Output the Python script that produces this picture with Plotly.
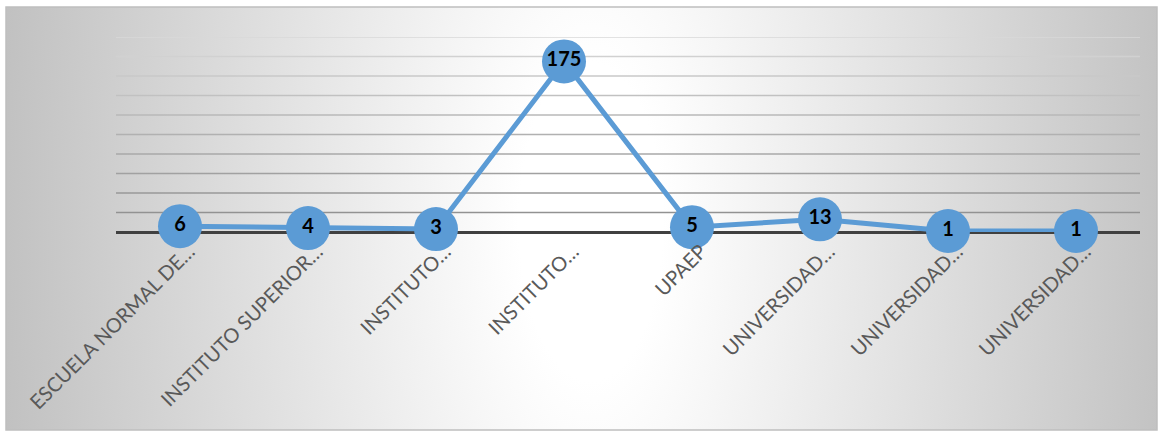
import base64
import plotly.graph_objects as go

labels = ["ESCUELA NORMAL DE…", "INSTITUTO SUPERIOR…", "INSTITUTO…", "INSTITUTO…",
          "UPAEP", "UNIVERSIDAD…", "UNIVERSIDAD…", "UNIVERSIDAD…"]
values = [6, 4, 3, 175, 5, 13, 1, 1]
positions = list(range(len(labels)))

grid_values = [20, 40, 60, 80, 100, 120, 140, 160, 180, 200]
grid_colors = ["#929292", "#999999", "#a1a1a1", "#a9a9a9", "#b1b1b1",
               "#b9b9b9", "#c1c1c1", "#c9c9c9", "#d1d1d1", "#d9d9d9"]

W, H = 1161, 431
ml, mr, mt, mb = 116, 21, 37, 199
pw, ph = W - ml - mr, H - mt - mb

# frame in paper coords
fx0, fx1 = (6 - ml) / pw, (1157 - ml) / pw
fy0, fy1 = (H - mb - 430) / ph, (H - mb - 7) / ph

svg = ("<svg xmlns='http://www.w3.org/2000/svg' width='1151' height='423' viewBox='0 0 1151 423' "
       "preserveAspectRatio='none'><defs><radialGradient id='g' gradientUnits='userSpaceOnUse' "
       "cx='585' cy='215' r='600' gradientTransform='translate(585 215) scale(1 2.2) translate(-585 -215)'>"
       "<stop offset='0' stop-color='#ffffff'/><stop offset='0.12' stop-color='#ffffff'/>"
       "<stop offset='1' stop-color='#c0c0c0'/></radialGradient></defs>"
       "<rect width='1151' height='423' fill='url(#g)'/></svg>")
src = "data:image/svg+xml;base64," + base64.b64encode(svg.encode()).decode()

fig = go.Figure()
for gv, gc in zip(grid_values, grid_colors):
    fig.add_shape(type="line", xref="paper", x0=0, x1=1, yref="y", y0=gv, y1=gv,
                  line=dict(color=gc, width=1.6), layer="below")

fig.add_trace(go.Scatter(
    x=positions, y=values, mode="lines+markers+text",
    line=dict(color="#5B9BD5", width=5),
    marker=dict(size=44, color="#5B9BD5", line=dict(width=0)),
    text=[str(v) for v in values], textposition="middle center",
    textfont=dict(family="Lato", size=20, color="#000000", weight="bold"),
    cliponaxis=False, hoverinfo="skip", showlegend=False,
))

fig.update_layout(
    width=W, height=H,
    margin=dict(l=ml, r=mr, t=mt, b=mb),
    paper_bgcolor="#ffffff", plot_bgcolor="rgba(0,0,0,0)",
    images=[dict(source=src, xref="paper", yref="paper", x=fx0, y=fy1,
                 sizex=fx1 - fx0, sizey=fy1 - fy0, xanchor="left", yanchor="top",
                 sizing="stretch", layer="below")],
    xaxis=dict(range=[-0.5, len(labels) - 0.5], tickvals=positions, ticktext=labels,
               tickangle=-45, showgrid=False, zeroline=False, showline=False, ticks="",
               ticklabelshift=9, ticklabelstandoff=3,
               tickfont=dict(family="Lato", size=20, color="#595959")),
    yaxis=dict(range=[0, 200], showticklabels=False, showgrid=False,
               zeroline=True, zerolinecolor="#404040", zerolinewidth=3, showline=False, ticks=""),
)
fig.add_shape(type="rect", xref="paper", yref="paper", x0=fx0, x1=fx1, y0=fy0, y1=fy1,
              line=dict(color="#bfbfbf", width=1.5), fillcolor="rgba(0,0,0,0)", layer="above")

fig.write_html("out.html")
